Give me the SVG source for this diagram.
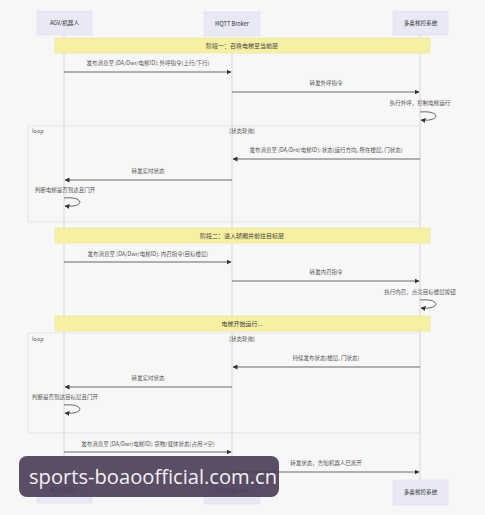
<svg xmlns="http://www.w3.org/2000/svg" width="485" height="515" viewBox="0 0 485 515">
<defs>
<marker id="ah" viewBox="0 0 10 10" refX="9" refY="5" markerWidth="5" markerHeight="5" orient="auto-start-reverse" markerUnits="userSpaceOnUse">
<path d="M0,0 L10,5 L0,10 z" fill="#333"/>
</marker>
<style>
.actor{fill:#e9e9f6;stroke:#dcdcee;stroke-width:0.6}
.at{font-family:"Noto Sans CJK SC","Noto Sans",sans-serif;font-size:5.6px;fill:#333;text-anchor:middle}
.life{stroke:#cfcfcf;stroke-width:0.8}
.note{fill:#f6f0a2;stroke:#ece59a;stroke-width:0.6}
.nt{font-family:"Noto Sans CJK SC","Noto Sans",sans-serif;font-size:6px;fill:#444;text-anchor:middle}
.mt{font-family:"Noto Sans CJK SC","Noto Sans",sans-serif;font-size:5.5px;fill:#555;text-anchor:middle}
.msg{stroke:#444;stroke-width:0.8;fill:none}
.loop{fill:none;stroke:#e2e2e2;stroke-width:0.8}
.lt{font-family:"Noto Sans CJK SC","Noto Sans",sans-serif;font-size:5.5px;fill:#555}
</style>
</defs>
<rect width="485" height="515" fill="#f7f7f7"/>

<g id="lifelines">
<line class="life" x1="64" y1="35" x2="64" y2="478"/>
<line class="life" x1="232" y1="36" x2="232" y2="479"/>
<line class="life" x1="420" y1="35" x2="420" y2="480"/>
</g>

<g id="loop1">
<rect class="loop" x="28" y="126" width="392" height="96"/>
<text class="lt" x="32" y="133">loop</text>
<text class="mt" x="242" y="133">[状态轮询]</text>
</g>
<g id="loop2">
<rect class="loop" x="28" y="333" width="392" height="100"/>
<text class="lt" x="32" y="341">loop</text>
<text class="mt" x="242" y="341">[状态轮询]</text>
</g>

<g id="actor-agv-top"><rect class="actor" x="37" y="11" width="55" height="24"/><text class="at" x="64.5" y="25">AGV/机器人</text></g>
<g id="actor-mqtt-top"><rect class="actor" x="204" y="12" width="56" height="24"/><text class="at" x="232" y="26">MQTT Broker</text></g>
<g id="actor-sys-top"><rect class="actor" x="393" y="11" width="55" height="24"/><text class="at" x="420.5" y="25">多奥梯控系统</text></g>

<g id="note1"><rect class="note" x="55" y="38" width="375" height="15"/><text class="nt" x="242" y="47.5">阶段一：召唤电梯至当前层</text></g>
<g id="note2"><rect class="note" x="55" y="228" width="375" height="15"/><text class="nt" x="242" y="237.5">阶段二：进入轿厢并前往目标层</text></g>
<g id="note3"><rect class="note" x="55" y="316" width="375" height="15"/><text class="nt" x="242" y="325.5">电梯开始运行...</text></g>

<g id="connectors">
<text class="mt" x="148" y="65">发布消息至 [DA/Dwr/电梯ID]: 外呼指令(上行/下行)</text>
<line class="msg" x1="64" y1="72" x2="231" y2="72" marker-end="url(#ah)"/>
<text class="mt" x="326" y="85">转发外呼指令</text>
<line class="msg" x1="232" y1="92" x2="419" y2="92" marker-end="url(#ah)"/>
<text class="mt" x="420" y="105">执行外呼，控制电梯运行</text>
<path class="msg" d="M420,112 C441,110 441,122 421,120" marker-end="url(#ah)"/>

<text class="mt" x="326" y="152">发布消息至 [DA/Drd/电梯ID]: 状态(运行方向, 所在楼层, 门状态)</text>
<line class="msg" x1="420" y1="159" x2="233" y2="159" marker-end="url(#ah)"/>
<text class="mt" x="148" y="173">转发实时状态</text>
<line class="msg" x1="232" y1="180" x2="65" y2="180" marker-end="url(#ah)"/>
<text class="mt" x="65" y="192">判断电梯是否到达且门开</text>
<path class="msg" d="M64,198 C85,196 85,208 65,206" marker-end="url(#ah)"/>

<text class="mt" x="148" y="256">发布消息至 [DA/Dwr/电梯ID]: 内召指令(目标楼层)</text>
<line class="msg" x1="64" y1="262" x2="231" y2="262" marker-end="url(#ah)"/>
<text class="mt" x="326" y="274">转发内召指令</text>
<line class="msg" x1="232" y1="281" x2="419" y2="281" marker-end="url(#ah)"/>
<text class="mt" x="420" y="294">执行内召，点亮目标楼层按钮</text>
<path class="msg" d="M420,300 C441,298 441,310 421,308" marker-end="url(#ah)"/>

<text class="mt" x="326" y="360">持续发布状态(楼层, 门状态)</text>
<line class="msg" x1="420" y1="367" x2="233" y2="367" marker-end="url(#ah)"/>
<text class="mt" x="148" y="380">转发实时状态</text>
<line class="msg" x1="232" y1="387" x2="65" y2="387" marker-end="url(#ah)"/>
<text class="mt" x="65" y="399">判断是否到达目标层且门开</text>
<path class="msg" d="M64,405 C85,403 85,415 65,413" marker-end="url(#ah)"/>

<text class="mt" x="148" y="446">发布消息至 [DA/Dwr/电梯ID]: 货物/载体状态(占用-&gt;空)</text>
<line class="msg" x1="64" y1="452" x2="231" y2="452" marker-end="url(#ah)"/>
<text class="mt" x="326" y="465">转发状态，告知机器人已离开</text>
<line class="msg" x1="232" y1="472" x2="419" y2="472" marker-end="url(#ah)"/>
</g>

<g id="actor-agv-bottom"><rect class="actor" x="37" y="478" width="55" height="25"/><text class="at" x="64.5" y="492">AGV/机器人</text></g>
<g id="actor-mqtt-bottom"><rect class="actor" x="204" y="479" width="56" height="25"/><text class="at" x="232" y="493">MQTT Broker</text></g>
<g id="actor-sys-bottom"><rect class="actor" x="393" y="480" width="55" height="25"/><text class="at" x="420.5" y="494">多奥梯控系统</text></g>

<g id="watermark">
<rect x="19" y="456" width="260" height="41" rx="8" fill="#4b3f57" fill-opacity="0.92"/>
<text x="29" y="484" font-family="'Open Sans','Noto Sans',sans-serif" font-size="20" fill="#f4f0f6" textLength="248" lengthAdjust="spacingAndGlyphs">sports-boaoofficial.com.cn</text>
</g>
</svg>
